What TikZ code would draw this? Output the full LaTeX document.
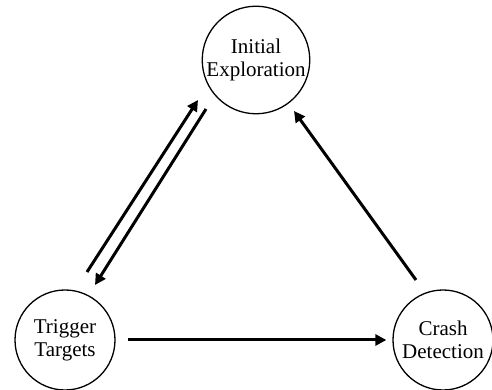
\documentclass[tikz,border=0pt]{standalone}
\usepackage{fontspec}
\setmainfont{Liberation Serif}
\usetikzlibrary{arrows.meta}

\begin{document}
\begin{tikzpicture}[x=1pt,y=1pt,
    state/.style={draw,circle,line width=1.3pt,minimum size=100pt,inner sep=0pt,
        align=center,font=\fontsize{21}{23}\selectfont},
    flow/.style={line width=3pt,-{Triangle[length=11pt,width=11pt]}}]
    \useasboundingbox (0,0) rectangle (492,390);
    \node[state] (init) at (256,330) {Initial\\Exploration};
    \node[state] (trig) at (65,50) {Trigger\\Targets};
    \node[state] (crash) at (443,50) {Crash\\Detection};
    % init <-> trig
    \draw[flow] ([shift={(22,68)}]trig.center) -- ([shift={(-58,-40)}]init.center);
    \draw[flow] ([shift={(-50,-49)}]init.center) -- ([shift={(30,55)}]trig.center);
    \draw[flow,shorten <=12pt,shorten >=6pt] (trig.east) -- (crash.west);
    \draw[flow] ([shift={(-27,60)}]crash.center) -- ([shift={(38,-51)}]init.center);
\end{tikzpicture}
\end{document}
